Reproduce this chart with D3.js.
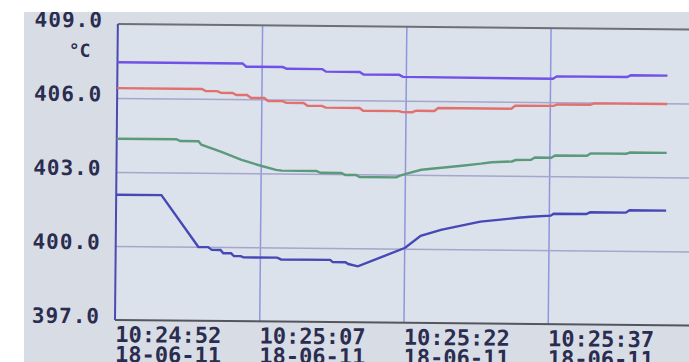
<!DOCTYPE html>
<html>
<head>
<meta charset="utf-8">
<script src="https://cdn.jsdelivr.net/npm/d3@7"></script>
<style>
  html, body { margin: 0; padding: 0; background: #fff; }
  svg { display: block; }
  .lbl { font-family: "DejaVu Sans Mono", monospace; font-weight: bold; fill: #2a2c50; }
</style>
</head>
<body>
<svg id="chart" width="689" height="362"></svg>
<script>
// recorder start time, ticks every 15 s
var baseTime = new Date(2018, 5, 11, 10, 24, 52);
var xTickSeconds = [0, 15, 30, 45];
var yTicks = [397, 400, 403, 406, 409];
var yGridTicks = [400, 403, 406];
var unitLabel = "°C";

// [seconds after 10:24:52, °C]
var purpleSeries = [[0,407.45],[13,407.45],[13.4,407.32],[17.2,407.32],[17.6,407.25],[21.3,407.25],[21.7,407.15],
  [25.2,407.15],[25.6,407.05],[29.3,407.05],[29.7,406.97],[45.3,406.95],[45.7,407.05],[53,407.05],[53.4,407.12],[57.2,407.12]];
var redSeries = [[0,406.4],[8.8,406.4],[9.2,406.32],[10.4,406.32],[10.8,406.25],[12,406.25],[12.4,406.17],[13.5,406.17],
  [13.9,406.06],[15.3,406.06],[15.7,405.94],[17.2,405.94],[17.6,405.87],[19.4,405.87],[19.8,405.76],[21.3,405.76],
  [21.7,405.69],[25.2,405.69],[25.6,405.58],[29.3,405.58],[29.7,405.54],[30.7,405.54],[31.1,405.6],[33,405.6],
  [33.4,405.72],[41,405.72],[41.4,405.84],[45.4,405.85],[45.8,405.91],[49.2,405.91],[49.6,405.97],[57.2,405.97]];
var greenSeries = [[0,404.35],[6.2,404.35],[6.6,404.28],[8.5,404.28],[8.8,404.14],[10.9,403.86],[13,403.54],[15.1,403.3],
  [16.6,403.15],[17.2,403.12],[20.8,403.12],[21.2,403.05],[23.4,403.05],[23.8,402.97],[24.9,402.97],[25.3,402.89],
  [29.1,402.89],[29.5,402.96],[30.1,403.04],[31.7,403.21],[33.8,403.3],[35.9,403.39],[37.9,403.48],[39,403.54],
  [41.1,403.58],[41.5,403.64],[43.1,403.66],[43.5,403.75],[45.2,403.75],[45.6,403.84],[48.9,403.84],[49.3,403.94],
  [53,403.94],[53.4,403.99],[57.2,403.99]];
var blueSeries = [[0,402.08],[4.7,402.08],[8.6,399.99],[9.6,399.99],[10,399.88],[10.9,399.88],[11.2,399.75],[12,399.75],
  [12.3,399.64],[13,399.64],[13.3,399.59],[16.8,399.59],[17.2,399.52],[22.3,399.52],[22.6,399.43],[23.9,399.43],
  [24.2,399.36],[25.2,399.27],[30.1,400.04],[31.7,400.53],[33.8,400.78],[35.9,400.96],[37.9,401.13],[40,401.22],
  [41.8,401.3],[43.1,401.35],[45.2,401.4],[45.5,401.48],[48.9,401.48],[49.3,401.55],[53,401.55],[53.4,401.65],[57.2,401.65]];

var seriesList = [
  {data: purpleSeries, color: "#7152e6"},
  {data: redSeries, color: "#e2706f"},
  {data: greenSeries, color: "#5c9a7c"},
  {data: blueSeries, color: "#4648b6"}
];

var W = 689, H = 362,
    plotLeft = 115, plotTop = 24,
    width = 577, height = 296;

var svg = d3.select("#chart");
svg.append("rect").attr("width", W).attr("height", H).attr("fill", "#fff");

svg.append("clipPath").attr("id", "screen")
  .append("rect").attr("x", 24).attr("y", 12).attr("width", W - 24).attr("height", H - 12);

var screen = svg.append("g").attr("clip-path", "url(#screen)");
screen.append("rect")
  .attr("x", 24).attr("y", 12).attr("width", W - 24).attr("height", H - 12)
  .attr("fill", "#d8dde5");

// photo is slightly tilted
var tilt = screen.append("g").attr("transform", "rotate(0.55," + plotLeft + "," + (plotTop + height) + ")");
var plot = tilt.append("g").attr("transform", "translate(" + plotLeft + "," + plotTop + ")");

var x = d3.scaleTime()
  .domain([baseTime, d3.timeSecond.offset(baseTime, 60)])
  .range([0, width]);
var y = d3.scaleLinear().domain([397, 409]).range([height, 0]);

function secs(s) { return new Date(+baseTime + s * 1000); }
var xTicks = xTickSeconds.map(secs);

plot.append("rect").attr("width", width + 20).attr("height", height).attr("fill", "#dce2eb");

// grid
var xg = plot.append("g").attr("class", "xgrid")
  .call(d3.axisBottom(x).tickValues(xTicks.slice(1)).tickSize(height).tickFormat(""));
xg.select(".domain").remove();
xg.selectAll("line").attr("stroke", "#8e96dc").attr("stroke-width", 1.5);

var yg = plot.append("g").attr("class", "ygrid")
  .call(d3.axisLeft(y).tickValues(yGridTicks).tickSize(-(width + 20)).tickFormat(""));
yg.select(".domain").remove();
yg.selectAll("line").attr("stroke", "#a4a6cc").attr("stroke-width", 1.5);

// frame
plot.append("line").attr("x1", 0).attr("x2", width + 20).attr("y1", 0).attr("y2", 0)
  .attr("stroke", "#6e6e78").attr("stroke-width", 2);
plot.append("line").attr("x1", 0).attr("x2", width + 20).attr("y1", height).attr("y2", height)
  .attr("stroke", "#55555f").attr("stroke-width", 2);
plot.append("line").attr("x1", 0).attr("x2", 0).attr("y1", 0).attr("y2", height)
  .attr("stroke", "#4b4ab4").attr("stroke-width", 2);

// data
var line = d3.line()
  .x(function(d) { return x(secs(d[0])); })
  .y(function(d) { return y(d[1]); });

plot.selectAll("path.series")
  .data(seriesList)
  .enter().append("path")
  .attr("class", "series")
  .attr("d", function(d) { return line(d.data); })
  .attr("fill", "none")
  .attr("stroke", function(d) { return d.color; })
  .attr("stroke-width", 2.4);

// y labels
var ya = plot.append("g")
  .call(d3.axisLeft(y).tickValues(yTicks).tickSize(0).tickPadding(15).tickFormat(d3.format(".1f")));
ya.select(".domain").remove();
ya.selectAll("text")
  .attr("class", "lbl")
  .attr("dy", 3)
  .style("font-size", "21px")
  .style("letter-spacing", "1px")
  .attr("fill", null);

// x labels: time over date
var timeFmt = d3.timeFormat("%H:%M:%S"),
    dateFmt = d3.timeFormat("%y-%m-%d");
var xa = plot.append("g").attr("transform", "translate(0," + height + ")")
  .call(d3.axisBottom(x).tickValues(xTicks).tickSize(0).tickFormat(""));
xa.select(".domain").remove();
xa.selectAll(".tick text").each(function(d) {
  var t = d3.select(this)
    .attr("class", "lbl")
    .attr("fill", null)
    .attr("text-anchor", "start")
    .attr("y", 0).attr("dy", null)
    .style("font-size", "22px");
  t.append("tspan").attr("x", 0).attr("y", 22).text(timeFmt(d));
  t.append("tspan").attr("x", 0).attr("y", 42).text(dateFmt(d));
});

tilt.append("text")
  .attr("class", "lbl")
  .attr("x", 77).attr("y", 57)
  .attr("text-anchor", "middle")
  .style("font-size", "18px")
  .text(unitLabel);
</script>
</body>
</html>
